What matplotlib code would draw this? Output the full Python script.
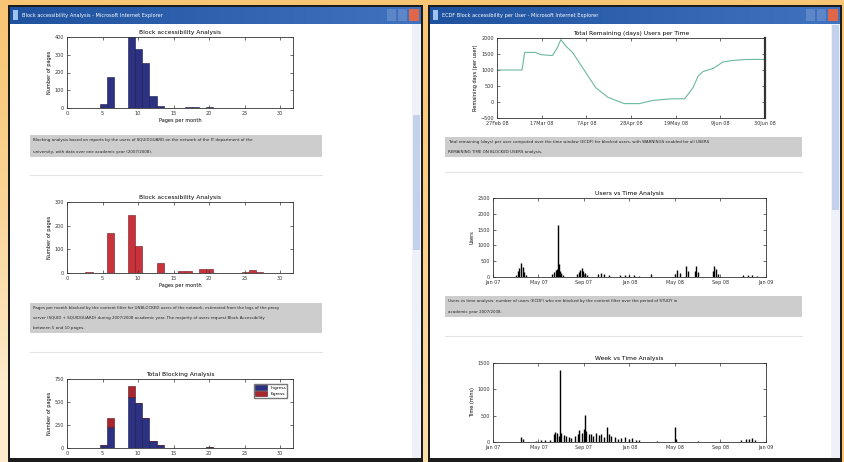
import numpy as np
import matplotlib
matplotlib.use("Agg")
import matplotlib.pyplot as plt
from matplotlib.patches import Rectangle

W, H = 845, 462

# ---- data ----
# left window: per-bin histograms (bin = pages per month)
bins_blue = [5, 6, 9, 10, 11, 12, 13, 15, 17, 18, 20]
count_blue = [20, 175, 400, 330, 255, 65, 12, 2, 3, 3, 6]

bins_red = [3, 6, 9, 10, 13, 16, 17, 19, 20, 25, 26, 27]
count_red = [3, 170, 246, 113, 42, 10, 10, 15, 15, 6, 14, 6]

bins_total = [3, 5, 6, 9, 10, 11, 12, 13, 15, 16, 17, 18, 19, 20, 25, 26, 27]
total_in = [5, 37, 228, 559, 493, 331, 81, 33, 4, 5, 5, 5, 5, 8, 5, 5, 5]
total_out = [0, 0, 103, 110, 0, 0, 0, 0, 0, 0, 0, 0, 0, 0, 0, 0, 0]

hist_xticks = [0, 5, 10, 15, 20, 25, 30]

# right window: remaining days over time (x in tick units)
t_remain = [0.0, 0.56, 0.62, 0.86, 0.98, 1.24, 1.35, 1.43, 1.54, 1.69, 1.95, 2.21,
            2.48, 2.66, 2.85, 3.19, 3.49, 3.9, 4.2, 4.39, 4.5, 4.61, 4.84, 5.06,
            5.29, 5.59, 6.0]
remain = [1000, 1000, 1550, 1550, 1480, 1450, 1700, 1950, 1750, 1550, 1000, 450,
          150, 50, -50, -50, 50, 100, 100, 450, 800, 950, 1050, 1250,
          1300, 1330, 1330]
remain_labels = ["27Feb 08", "17Mar 08", "7Apr 08", "28Apr 08", "19May 08", "9Jun 08", "30Jun 08"]

# users vs time
t_users = [0.50, 0.55, 0.58, 0.62, 0.65, 0.68, 0.72, 1.30, 1.34, 1.38, 1.41, 1.43,
           1.45, 1.47, 1.50, 1.53, 1.85, 1.88, 1.92, 1.95, 1.98, 2.02, 2.06, 2.30,
           2.38, 2.45, 2.55, 2.80, 2.90, 3.00, 3.10, 3.20, 3.48, 4.00, 4.05, 4.10,
           4.25, 4.28, 4.43, 4.46, 4.50, 4.83, 4.86, 4.90, 4.95, 5.50, 5.60, 5.70, 5.80]
users = [60, 180, 300, 443, 320, 150, 50, 90, 160, 230, 260, 1656,
         400, 200, 120, 60, 80, 150, 230, 285, 200, 120, 60, 90,
         127, 100, 60, 50, 74, 60, 70, 40, 110, 100, 230, 120,
         340, 200, 200, 340, 150, 200, 340, 260, 100, 50, 70, 60, 40]

# time vs time
t_mins = [0.62, 0.66, 0.95, 1.05, 1.15, 1.25, 1.33, 1.37, 1.41, 1.44, 1.47, 1.50,
          1.55, 1.60, 1.66, 1.72, 1.80, 1.86, 1.90, 1.95, 1.99, 2.02, 2.05, 2.10,
          2.15, 2.20, 2.26, 2.32, 2.38, 2.44, 2.50, 2.55, 2.60, 2.68, 2.75, 2.82,
          2.90, 2.98, 3.06, 3.14, 3.20, 3.60, 4.00, 4.02, 4.50, 5.45, 5.55, 5.62,
          5.70, 5.75]
mins = [95, 60, 25, 40, 30, 45, 150, 190, 170, 120, 1360, 180,
        140, 110, 90, 70, 120, 160, 220, 180, 250, 506, 200, 150,
        160, 120, 180, 130, 150, 90, 285, 160, 110, 95, 60, 80,
        95, 50, 70, 40, 30, 20, 285, 60, 20, 40, 60, 50,
        70, 45]
time_labels = ["Jan 07", "May 07", "Sep 07", "Jan 08", "May 08", "Sep 08", "Jan 09"]


def box(x0, y0, x1, y1):
    # pixel box (top-left origin) -> figure fraction
    return [x0 / W, 1 - y1 / H, (x1 - x0) / W, (y1 - y0) / H]


fig = plt.figure(figsize=(W / 100, H / 100), dpi=100)

# ---- background / browser windows ----
bg = fig.add_axes([0, 0, 1, 1])
bg.set_xlim(0, W)
bg.set_ylim(H, 0)
bg.axis("off")
yy, xx = np.mgrid[0:H, 0:W]
f = np.clip((yy / H) ** 1.4 * (1 - xx / W) * 1.3, 0, 1)
orange = np.array([0.976, 0.776, 0.455])
cream = np.array([0.995, 0.925, 0.80])
grad = orange[None, None, :] * (1 - f[..., None]) + cream[None, None, :] * f[..., None]
bg.imshow(grad, extent=[0, W, H, 0], aspect="auto", zorder=0)

for (x0, x1, title, thumb) in [(8, 423, "Block accessibility Analysis - Microsoft Internet Explorer", (115, 250)),
                               (428, 842, "ECDF Block accessibility per User - Microsoft Internet Explorer", (25, 210))]:
    bg.add_patch(Rectangle((x0, 5), x1 - x0, H, facecolor="#1c1c1c", zorder=1))
    bg.add_patch(Rectangle((x0 + 2, 7), x1 - x0 - 4, H, facecolor="white", zorder=2))
    # title bar gradient
    tb = np.linspace(0, 1, 200)[None, :, None]
    c0 = np.array([0.12, 0.32, 0.62]); c1 = np.array([0.25, 0.45, 0.75])
    bar = c0 * (1 - tb) + c1 * tb
    bg.imshow(bar, extent=[x0 + 2, x1 - 2, 24, 7], aspect="auto", zorder=3)
    bg.text(x0 + 14, 15.5, title, fontsize=3.6, color="white", va="center", zorder=4)
    bg.add_patch(Rectangle((x0 + 5, 10), 5, 10, facecolor="#9fc3ef", zorder=4))
    bg.add_patch(Rectangle((x1 - 36, 9), 9, 12, facecolor="#5d86c8", zorder=4))
    bg.add_patch(Rectangle((x1 - 25, 9), 9, 12, facecolor="#5d86c8", zorder=4))
    bg.add_patch(Rectangle((x1 - 14, 9), 10, 12, facecolor="#e0664a", zorder=4))
    # scrollbar
    bg.add_patch(Rectangle((x1 - 11, 24), 9, H, facecolor="#eef2f8", zorder=4))
    bg.add_patch(Rectangle((x1 - 10, thumb[0]), 7, thumb[1] - thumb[0], facecolor="#c3d1ec", zorder=5))
    bg.add_patch(Rectangle((x0 + 2, H - 4), x1 - x0 - 4, 4, facecolor="#1c1c1c", zorder=5))

# grey description boxes with tiny text
desc = [
    (30, 322, 135, 157, ["Blocking analysis based on reports by the users of SQUIDGUARD on the network of the IT department of the",
                         "university, with data over one academic year (2007/2008)."]),
    (30, 322, 303, 333, ["Pages per month blocked by the content filter for UNBLOCKED users of the network, estimated from the logs of the proxy",
                         "server (SQUID + SQUIDGUARD) during 2007/2008 academic year. The majority of users request Block Accessibility",
                         "between 5 and 10 pages."]),
    (445, 802, 137, 157, ["Total remaining (days) per user computed over the time window (ECDF) for blocked users, with WARNINGS enabled for all USERS",
                          "REMAINING TIME ON BLOCKED USERS analysis."]),
    (445, 802, 296, 317, ["Users vs time analysis: number of users (ECDF) who are blocked by the content filter over the period of STUDY in",
                          "academic year 2007/2008."]),
]
for x0, x1, y0, y1, lines in desc:
    bg.add_patch(Rectangle((x0, y0), x1 - x0, y1 - y0, facecolor="#cdcdcd", zorder=6))
    n = len(lines)
    for i, ln in enumerate(lines):
        yl = y0 + (y1 - y0) * (i + 0.5) / n
        bg.text(x0 + 3, yl, ln, fontsize=2.9, color="#222222", va="center", zorder=7)

for x0, x1, y in [(30, 322, 175), (30, 322, 352), (445, 802, 172), (445, 802, 336)]:
    bg.plot([x0, x1], [y, y], color="#e3e3e3", lw=0.8, zorder=6)


def style(ax, thick_right=False):
    ax.set_facecolor("white")
    for s in ax.spines.values():
        s.set_linewidth(0.6)
        s.set_color("#333333")
    if thick_right:
        ax.spines["right"].set_linewidth(1.6)
    ax.tick_params(direction="in", top=True, right=True, length=2.5, width=0.5,
                   labelsize=3.5, pad=2, colors="#333333")
    ax.set_zorder(10)


def hist_axes(rect, title, ylim, yticks):
    ax = fig.add_axes(box(*rect))
    style(ax)
    ax.set_xlim(0, 31.8)
    ax.set_ylim(*ylim)
    ax.set_xticks(hist_xticks)
    ax.set_yticks(yticks)
    ax.set_title(title, fontsize=4.3, pad=2)
    ax.set_ylabel("Number of pages", fontsize=3.6, labelpad=2)
    return ax


# ---- left window charts ----
ax1 = hist_axes((67, 37, 293, 108), "Block accessibility Analysis", (0, 400), [0, 100, 200, 300, 400])
ax1.bar(np.array(bins_blue) - 0.4, count_blue, width=1, align="edge",
        color="#2d3182", edgecolor="#15184a", linewidth=0.4)
ax1.set_xlabel("Pages per month", fontsize=3.6, labelpad=1.5)

ax2 = hist_axes((67, 202, 293, 273), "Block accessibility Analysis", (0, 300), [0, 100, 200, 300])
ax2.bar(np.array(bins_red) - 0.4, count_red, width=1, align="edge",
        color="#c8323a", edgecolor="#6e1a20", linewidth=0.4)
ax2.set_xlabel("Pages per month", fontsize=3.6, labelpad=1.5)

ax3 = hist_axes((67, 379, 293, 448), "Total Blocking Analysis", (0, 750), [0, 250, 500, 750])
ax3.bar(np.array(bins_total) - 0.4, total_in, width=1, align="edge",
        color="#2d3182", edgecolor="#15184a", linewidth=0.4, label="Ingress")
ax3.bar(np.array(bins_total) - 0.4, total_out, width=1, align="edge", bottom=total_in,
        color="#a8262e", edgecolor="#5e1016", linewidth=0.4, label="Egress")
ax3.legend(loc="upper right", fontsize=3.2, frameon=True, handlelength=2.6,
           handleheight=1.2, borderpad=0.3, labelspacing=0.3, fancybox=False,
           edgecolor="#555555", bbox_to_anchor=(0.985, 0.96))

# ---- right window charts ----
ax4 = fig.add_axes(box(497, 38, 765, 118))
style(ax4, thick_right=True)
ax4.plot(t_remain, remain, color="#6cb8a2", lw=0.8)
ax4.set_xlim(0, 6)
ax4.set_ylim(-500, 2000)
ax4.set_yticks([-500, 0, 500, 1000, 1500, 2000])
ax4.set_xticks(range(7))
ax4.set_xticklabels(remain_labels)
ax4.set_title("Total Remaining (days) Users per Time", fontsize=4.3, pad=2)
ax4.set_ylabel("Remaining days (per user)", fontsize=3.6, labelpad=2)

ax5 = fig.add_axes(box(493, 198, 766, 277))
style(ax5)
ax5.vlines(t_users, 0, users, color="black", lw=1.0)
ax5.set_xlim(0, 6)
ax5.set_ylim(0, 2500)
ax5.set_yticks([0, 500, 1000, 1500, 2000, 2500])
ax5.set_xticks(range(7))
ax5.set_xticklabels(time_labels)
ax5.set_title("Users vs Time Analysis", fontsize=4.3, pad=2)
ax5.set_ylabel("Users", fontsize=3.6, labelpad=2)

ax6 = fig.add_axes(box(493, 363, 766, 442))
style(ax6)
ax6.vlines(t_mins, 0, mins, color="black", lw=1.0)
ax6.set_xlim(0, 6)
ax6.set_ylim(0, 1500)
ax6.set_yticks([0, 500, 1000, 1500])
ax6.set_xticks(range(7))
ax6.set_xticklabels(time_labels)
ax6.set_title("Week vs Time Analysis", fontsize=4.3, pad=2)
ax6.set_ylabel("Time (mins)", fontsize=3.6, labelpad=2)

fig.savefig("out.png", dpi=100)
